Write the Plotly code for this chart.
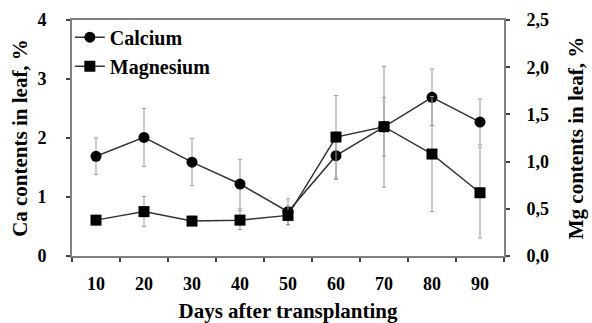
import plotly.graph_objects as go

days = ["10", "20", "30", "40", "50", "60", "70", "80", "90"]
calcium = [1.69, 2.01, 1.59, 1.22, 0.75, 1.70, 2.19, 2.69, 2.27]
calcium_err = [0.31, 0.49, 0.40, 0.42, 0.22, 0.40, 0.50, 0.48, 0.39]
magnesium = [0.38, 0.47, 0.37, 0.38, 0.43, 1.26, 1.37, 1.08, 0.67]
magnesium_err = [0.05, 0.16, 0.05, 0.10, 0.10, 0.44, 0.64, 0.61, 0.48]
left_ticks = [0, 1, 2, 3, 4]
right_ticks = [0, 0.5, 1.0, 1.5, 2.0, 2.5]
right_labels = ["0,0", "0,5", "1,0", "1,5", "2,0", "2,5"]

FONT = "'Liberation Serif', 'Times New Roman', serif"
AXC = "#808080"

fig = go.Figure()
fig.add_trace(go.Scatter(
    x=days, y=calcium, name="Calcium", mode="lines+markers",
    line=dict(color="#333333", width=1.5),
    marker=dict(symbol="circle", size=11, color="black"),
    error_y=dict(type="data", array=calcium_err, color="#999999", thickness=1, width=2),
))
fig.add_trace(go.Scatter(
    x=days, y=magnesium, name="Magnesium", mode="lines+markers", yaxis="y2",
    line=dict(color="#333333", width=1.5),
    marker=dict(symbol="square", size=11, color="black"),
    error_y=dict(type="data", array=magnesium_err, color="#999999", thickness=1, width=2),
))

fig.update_layout(
    width=592, height=323,
    margin=dict(l=72, r=88, t=20, b=67),
    paper_bgcolor="white", plot_bgcolor="white",
    font=dict(family=FONT, size=18, color="black", weight="bold"),
    showlegend=True,
    legend=dict(x=-0.005, y=1.01, xanchor="left", yanchor="top",
                bgcolor="rgba(0,0,0,0)", font=dict(family=FONT, size=20, weight="bold"),
                itemwidth=30, tracegroupgap=0),
    xaxis=dict(
        type="category", range=[-0.5, 8.5], tickson="boundaries", automargin=False,
        showline=True, linecolor=AXC, linewidth=2, mirror=True,
        ticks="outside", ticklen=4, tickcolor="#444", tickwidth=1.5,
        ticklabelstandoff=10,
        tickfont=dict(family=FONT, size=18, weight="bold"),
        showgrid=False, zeroline=False,
        title=dict(text="Days after transplanting", standoff=12,
                   font=dict(family=FONT, size=21, weight="bold")),
    ),
    yaxis=dict(
        range=[0, 4], tickvals=left_ticks, automargin=False,
        showline=True, linecolor=AXC, linewidth=2,
        ticks="outside", ticklen=4, tickcolor="#444", tickwidth=1.5,
        ticklabelstandoff=16,
        tickfont=dict(family=FONT, size=18, weight="bold"),
        showgrid=False, zeroline=False,
        title=dict(text="Ca contents in leaf, %", standoff=4,
                   font=dict(family=FONT, size=21, weight="bold")),
    ),
    yaxis2=dict(
        range=[0, 2.5], overlaying="y", side="right", automargin=False,
        tickvals=right_ticks, ticktext=right_labels,
        showline=True, linecolor=AXC, linewidth=2,
        ticks="outside", ticklen=4, tickcolor="#444", tickwidth=1.5,
        ticklabelstandoff=13,
        tickfont=dict(family=FONT, size=18, weight="bold"),
        showgrid=False, zeroline=False,
        title=dict(text="Mg contents in leaf, %", standoff=20,
                   font=dict(family=FONT, size=21, weight="bold")),
    ),
)

fig.write_html("out.html", config={"displayModeBar": False},
               post_script="document.body.style.margin='0';")
